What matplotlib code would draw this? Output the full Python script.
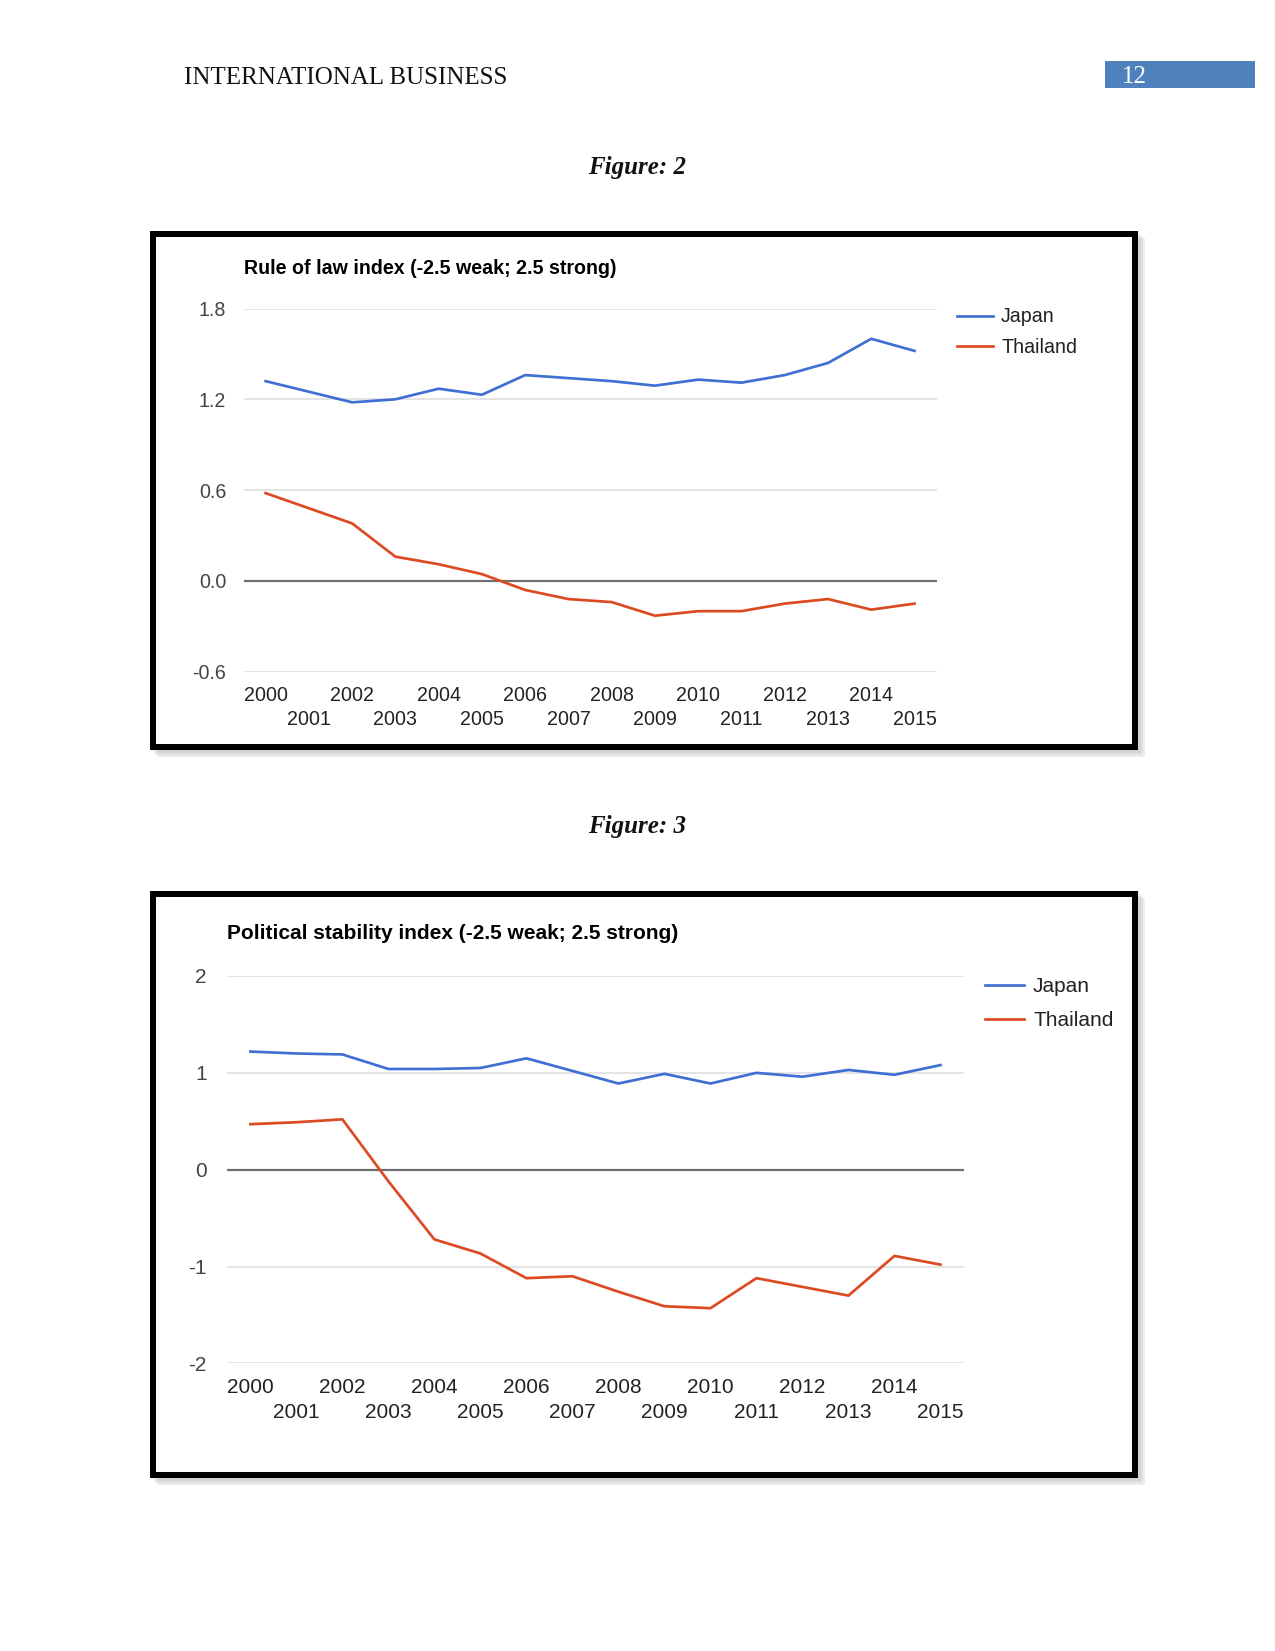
import matplotlib
matplotlib.use('Agg')
import matplotlib.pyplot as plt
from matplotlib.patches import Rectangle

# ---------------- data ----------------
years = list(range(2000, 2016))
even_years = [y for y in years if y % 2 == 0]
odd_years = [y for y in years if y % 2 == 1]

rule_japan = [1.32, 1.25, 1.18, 1.20, 1.27, 1.23, 1.36, 1.34, 1.32, 1.29,
              1.33, 1.31, 1.36, 1.44, 1.60, 1.52]
rule_thailand = [0.58, 0.48, 0.38, 0.16, 0.11, 0.045, -0.06, -0.12, -0.14, -0.23,
                 -0.20, -0.20, -0.15, -0.12, -0.19, -0.15]
rule_yticks = [1.8, 1.2, 0.6, 0.0, -0.6]
rule_ylabels = ["1.8", "1.2", "0.6", "0.0", "-0.6"]

pol_japan = [1.22, 1.20, 1.19, 1.04, 1.04, 1.05, 1.15, 1.02, 0.89, 0.99,
             0.89, 1.00, 0.96, 1.03, 0.98, 1.08]
pol_thailand = [0.47, 0.49, 0.52, -0.12, -0.72, -0.865, -1.12, -1.10, -1.26, -1.41,
                -1.43, -1.12, -1.21, -1.30, -0.89, -0.98]
pol_yticks = [2, 1, 0, -1, -2]
pol_ylabels = ["2", "1", "0", "-1", "-2"]

series_names = ["Japan", "Thailand"]
title1 = "Rule of law index (-2.5 weak; 2.5 strong)"
title2 = "Political stability index (-2.5 weak; 2.5 strong)"

# ---------------- style ----------------
W, H = 1275, 1651
DPI = 150
BLUE = "#3f6fd3"
RED = "#dc4a22"
GRID = "#e4e4e4"
ZERO = "#6e6e6e"
SANS = ["Liberation Sans", "DejaVu Sans"]
SERIF = ["Liberation Serif", "DejaVu Serif"]

fig = plt.figure(figsize=(W / DPI, H / DPI), dpi=DPI)
fig.patch.set_facecolor("white")


def fx(px):
    return px / W


def fy(py):
    return 1 - py / H


# ---------------- page header ----------------
fig.text(fx(184), fy(83.5), "INTERNATIONAL BUSINESS", family=SERIF, fontsize=12,
         color="#111111", va="baseline", ha="left")
fig.add_artist(Rectangle((fx(1105), fy(88)), fx(150), 27 / H, transform=fig.transFigure,
                         facecolor="#4f81bd", edgecolor="none"))
fig.text(fx(1122), fy(83), "12", family=SERIF, fontsize=12, color="white",
         va="baseline", ha="left")

fig.text(fx(637), fy(174), "Figure: 2", family=SERIF, fontsize=12, weight="bold",
         style="italic", ha="center", va="baseline", color="#111111")
fig.text(fx(637), fy(833), "Figure: 3", family=SERIF, fontsize=12, weight="bold",
         style="italic", ha="center", va="baseline", color="#111111")


def frame(x0, y0, x1, y1):
    # shadow
    for i, a in enumerate([0.10, 0.12, 0.14]):
        off = 3 + i * 2
        fig.add_artist(Rectangle((fx(x0 + off), fy(y1 + off)), (x1 - x0) / W, (y1 - y0) / H,
                                 transform=fig.transFigure, facecolor="#808080",
                                 edgecolor="none", alpha=a, zorder=0))
    fig.add_artist(Rectangle((fx(x0), fy(y1)), (x1 - x0) / W, (y1 - y0) / H,
                             transform=fig.transFigure, facecolor="white",
                             edgecolor="none", zorder=1))
    lw = 6 * 72 / DPI
    fig.add_artist(Rectangle((fx(x0 + 3), fy(y1 - 3)), (x1 - x0 - 6) / W, (y1 - y0 - 6) / H,
                             transform=fig.transFigure, facecolor="none",
                             edgecolor="black", linewidth=lw, zorder=5))


def chart(rect_px, ylim, yticks, ylabels, japan, thailand, title, title_pos,
          fs, ypad, xpad_even, xpad_odd, leg_pos, leg_len, leg_gap, leg_sp):
    l, r, t, b = rect_px
    ax = fig.add_axes([fx(l), fy(b), (r - l) / W, (b - t) / H])
    ax.set_zorder(3)
    ax.patch.set_alpha(0)
    ax.set_xlim(1999.5, 2015.52)
    ax.set_ylim(*ylim)
    for v in yticks:
        if v == 0:
            ax.axhline(v, color=ZERO, lw=2.2 * 72 / DPI, zorder=2)
        else:
            ax.axhline(v, color=GRID, lw=2.0 * 72 / DPI, zorder=1)
    ln1, = ax.plot(years, japan, color=BLUE, lw=2.7 * 72 / DPI, zorder=4,
                   solid_joinstyle="round", label=series_names[0])
    ln2, = ax.plot(years, thailand, color=RED, lw=2.7 * 72 / DPI, zorder=4,
                   solid_joinstyle="round", label=series_names[1])
    for s in ax.spines.values():
        s.set_visible(False)
    ax.set_yticks(yticks)
    ax.set_yticklabels(ylabels, family=SANS, fontsize=fs, color="#444444")
    ax.tick_params(axis="y", length=0, pad=ypad)
    ax.set_xticks(even_years)
    ax.set_xticklabels([str(y) for y in even_years], family=SANS, fontsize=fs,
                       color="#222222")
    ax.set_xticks(odd_years, minor=True)
    ax.set_xticklabels([str(y) for y in odd_years], minor=True, family=SANS,
                       fontsize=fs, color="#222222")
    ax.tick_params(axis="x", which="major", length=0, pad=xpad_even)
    ax.tick_params(axis="x", which="minor", length=0, pad=xpad_odd)
    fig.text(fx(title_pos[0]), fy(title_pos[1]), title, family=SANS, fontsize=fs,
             weight="bold", color="#000000", ha="left", va="baseline", zorder=6)
    fpx = fs * DPI / 72
    leg = ax.legend(handles=[ln1, ln2], loc="upper left",
                    bbox_to_anchor=(fx(leg_pos[0]), fy(leg_pos[1])),
                    bbox_transform=fig.transFigure, frameon=False,
                    prop={"family": SANS, "size": fs},
                    handlelength=leg_len / fpx, handletextpad=leg_gap / fpx,
                    labelspacing=leg_sp, borderpad=0, borderaxespad=0)
    for txt in leg.get_texts():
        txt.set_color("#222222")
    return ax


frame(150, 231, 1138, 750)
chart((244, 937, 308.5, 671.7), (-0.6, 1.8), rule_yticks, rule_ylabels,
      rule_japan, rule_thailand, title1, (244, 273.5), 9.4, 8.5, 7.0, 18.5,
      (957, 307.5), 36, 8, 0.6)

frame(150, 891, 1138, 1478)
chart((227.4, 964.4, 976, 1363.4), (-2, 2), pol_yticks, pol_ylabels,
      pol_japan, pol_thailand, title2, (227, 939.5), 10.0, 10.0, 7.2, 19.0,
      (985, 977.5), 39, 9, 0.7)

fig.savefig("out.png", dpi=DPI, facecolor="white")
